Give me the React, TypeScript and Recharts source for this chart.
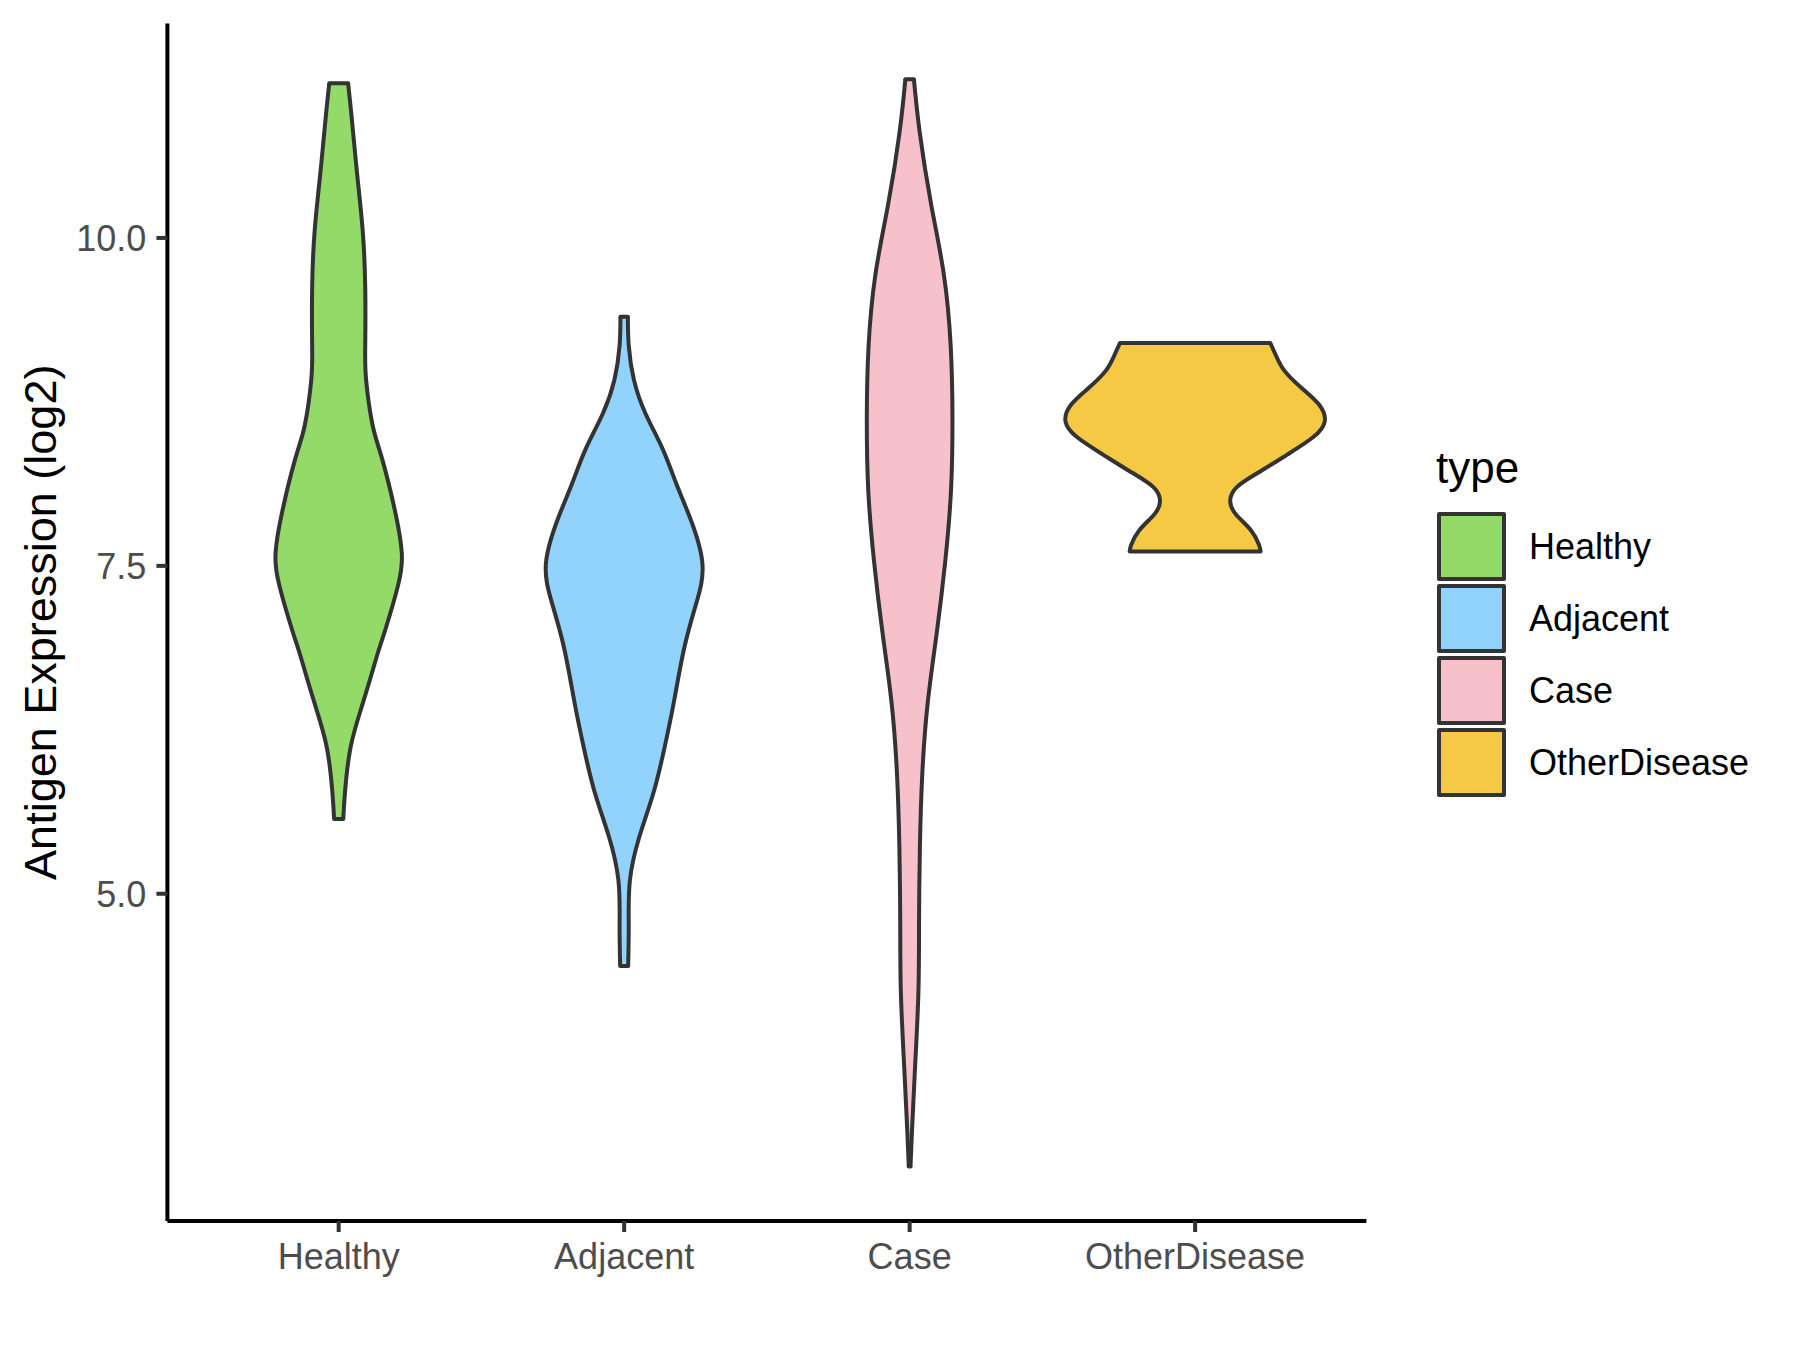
import React from 'react';
import { ComposedChart, Area, XAxis, YAxis, ReferenceLine, Legend } from 'recharts';

const FONT = '"Liberation Sans", Arial, Helvetica, sans-serif';

// categories and colours
const categories = ['Healthy', 'Adjacent', 'Case', 'OtherDisease'];
const fills = ['#93DA69', '#92D3FE', '#F7C1CC', '#F6C944'];
const seriesKeys = ['healthy', 'adjacent', 'case', 'other'];

// y ticks
const yTicks = [5, 7.5, 10];
const yDomain = [2.505, 11.635];
const xTicks = [1, 2, 3, 4];

// violin outlines: expression value (log2) and half-width (in category units)
const healthyValues = [11.18, 10.93, 10.5, 10.06, 9.62, 9.18, 8.92, 8.57, 8.31, 7.87, 7.6, 7.37, 6.99, 6.82, 6.47, 6.12, 5.77, 5.57];
const healthyHalfWidths = [0.033, 0.045, 0.064, 0.084, 0.093, 0.093, 0.096, 0.119, 0.153, 0.202, 0.221, 0.21, 0.16, 0.135, 0.087, 0.042, 0.022, 0.016];

const adjacentValues = [9.4, 9.18, 8.92, 8.66, 8.39, 8.13, 7.87, 7.52, 7.21, 6.87, 6.46, 6.12, 5.78, 5.44, 5.1, 4.76, 4.45];
const adjacentHalfWidths = [0.013, 0.016, 0.034, 0.075, 0.135, 0.182, 0.23, 0.274, 0.252, 0.21, 0.174, 0.142, 0.104, 0.054, 0.02, 0.016, 0.014];

const caseValues = [11.21, 10.81, 10.26, 9.72, 9.17, 8.63, 8.08, 7.54, 6.99, 6.45, 5.9, 5.36, 4.81, 4.27, 3.72, 3.18, 2.92];
const caseHalfWidths = [0.015, 0.035, 0.075, 0.12, 0.144, 0.15, 0.145, 0.125, 0.095, 0.063, 0.044, 0.036, 0.033, 0.031, 0.02, 0.008, 0.003];

const otherValues = [9.2, 9.11, 8.99, 8.86, 8.73, 8.6, 8.48, 8.35, 8.22, 8.1, 7.99, 7.89, 7.77, 7.66, 7.61];
const otherHalfWidths = [0.263, 0.282, 0.312, 0.371, 0.434, 0.454, 0.413, 0.324, 0.228, 0.146, 0.123, 0.144, 0.196, 0.224, 0.229];

const violins = [
  { values: healthyValues, widths: healthyHalfWidths },
  { values: adjacentValues, widths: adjacentHalfWidths },
  { values: caseValues, widths: caseHalfWidths },
  { values: otherValues, widths: otherHalfWidths },
];

// table for the library: one row per outline level, range [left, right] per violin
const rows: any[] = [];
violins.forEach((vi, i) => {
  vi.values.forEach((v, j) => {
    const row: any = { v };
    seriesKeys.forEach((k, m) => {
      row[k] = m === i ? [i + 1 - vi.widths[j], i + 1 + vi.widths[j]] : [null, null];
    });
    rows.push(row);
  });
});
rows.sort((a, b) => b.v - a.v);

const OUTLINE = '#333333';
const LW = 4;

const renderLegend = () => (
  <div style={{ position: 'relative', width: 380, height: 400, fontFamily: FONT }}>
    <div style={{ position: 'absolute', left: 16, top: 25.75, fontSize: 44, lineHeight: '44px', color: '#000', whiteSpace: 'nowrap' }}>type</div>
    {categories.map((c, i) => (
      <React.Fragment key={c}>
        <div
          style={{
            position: 'absolute',
            left: 17,
            top: 91.7 + 72.2 * i,
            width: 69,
            height: 69,
            boxSizing: 'border-box',
            border: `4px solid ${OUTLINE}`,
            borderRadius: 2,
            background: fills[i],
          }}
        />
        <div style={{ position: 'absolute', left: 109, top: 108.6 + 72.2 * i, fontSize: 36, lineHeight: '36px', color: '#000', whiteSpace: 'nowrap' }}>{c}</div>
      </React.Fragment>
    ))}
  </div>
);

const YTitle = (props: any) => {
  const vb = props.viewBox || { x: 0, y: 23.5, width: 167.4, height: 1197.5 };
  const cx = 55.5;
  const cy = vb.y + vb.height / 2;
  return (
    <text x={cx} y={cy} transform={`rotate(-90 ${cx} ${cy})`} textAnchor="middle" fontSize={45} fontFamily={FONT} fill="#000">
      Antigen Expression (log2)
    </text>
  );
};

export default function App() {
  return (
    <div style={{ position: 'absolute', left: 0, top: 0, width: 1800, height: 1350, background: '#fff' }}>
      <ComposedChart
        width={1800}
        height={1350}
        layout="vertical"
        data={rows}
        margin={{ top: 23.5, right: 433.6, bottom: 0, left: 0 }}
      >
        <XAxis
          type="number"
          domain={[0.4, 4.6]}
          allowDataOverflow
          ticks={xTicks}
          interval={0}
          tickFormatter={(t: number) => categories[Math.round(t) - 1] ?? ''}
          height={129}
          tickSize={11}
          tickMargin={11}
          axisLine={{ stroke: '#000', strokeWidth: LW }}
          tickLine={{ stroke: OUTLINE, strokeWidth: LW }}
          tick={{ fill: '#4D4D4D', fontSize: 36, fontFamily: FONT }}
        />
        <YAxis
          type="number"
          dataKey="v"
          domain={yDomain}
          allowDataOverflow
          reversed
          ticks={yTicks}
          interval={0}
          tickFormatter={(t: number) => t.toFixed(1)}
          width={167.4}
          tickSize={11}
          tickMargin={10}
          axisLine={{ stroke: '#000', strokeWidth: LW }}
          tickLine={{ stroke: OUTLINE, strokeWidth: LW }}
          tick={{ fill: '#4D4D4D', fontSize: 36, fontFamily: FONT }}
          label={{ content: (p: any) => <YTitle {...p} /> }}
        />
        {seriesKeys.map((k, i) => (
          <Area
            key={k}
            dataKey={k}
            name={categories[i]}
            type="natural"
            connectNulls
            fill={fills[i]}
            fillOpacity={1}
            stroke={OUTLINE}
            strokeWidth={LW}
            strokeLinejoin="round"
            dot={false}
            activeDot={false}
            isAnimationActive={false}
          />
        ))}
        {violins.map((vi, i) => {
          const n = vi.values.length;
          return (
            <React.Fragment key={`caps-${i}`}>
              <ReferenceLine
                segment={[
                  { x: i + 1 - vi.widths[0], y: vi.values[0] },
                  { x: i + 1 + vi.widths[0], y: vi.values[0] },
                ]}
                stroke={OUTLINE}
                strokeWidth={LW}
                strokeLinecap="round"
                ifOverflow="visible"
              />
              <ReferenceLine
                segment={[
                  { x: i + 1 - vi.widths[n - 1], y: vi.values[n - 1] },
                  { x: i + 1 + vi.widths[n - 1], y: vi.values[n - 1] },
                ]}
                stroke={OUTLINE}
                strokeWidth={LW}
                strokeLinecap="round"
                ifOverflow="visible"
              />
            </React.Fragment>
          );
        })}
        <Legend
          layout="horizontal"
          align="center"
          verticalAlign="middle"
          wrapperStyle={{ left: 1420, top: 420, width: 380, height: 400 }}
          content={renderLegend}
        />
      </ComposedChart>
    </div>
  );
}
